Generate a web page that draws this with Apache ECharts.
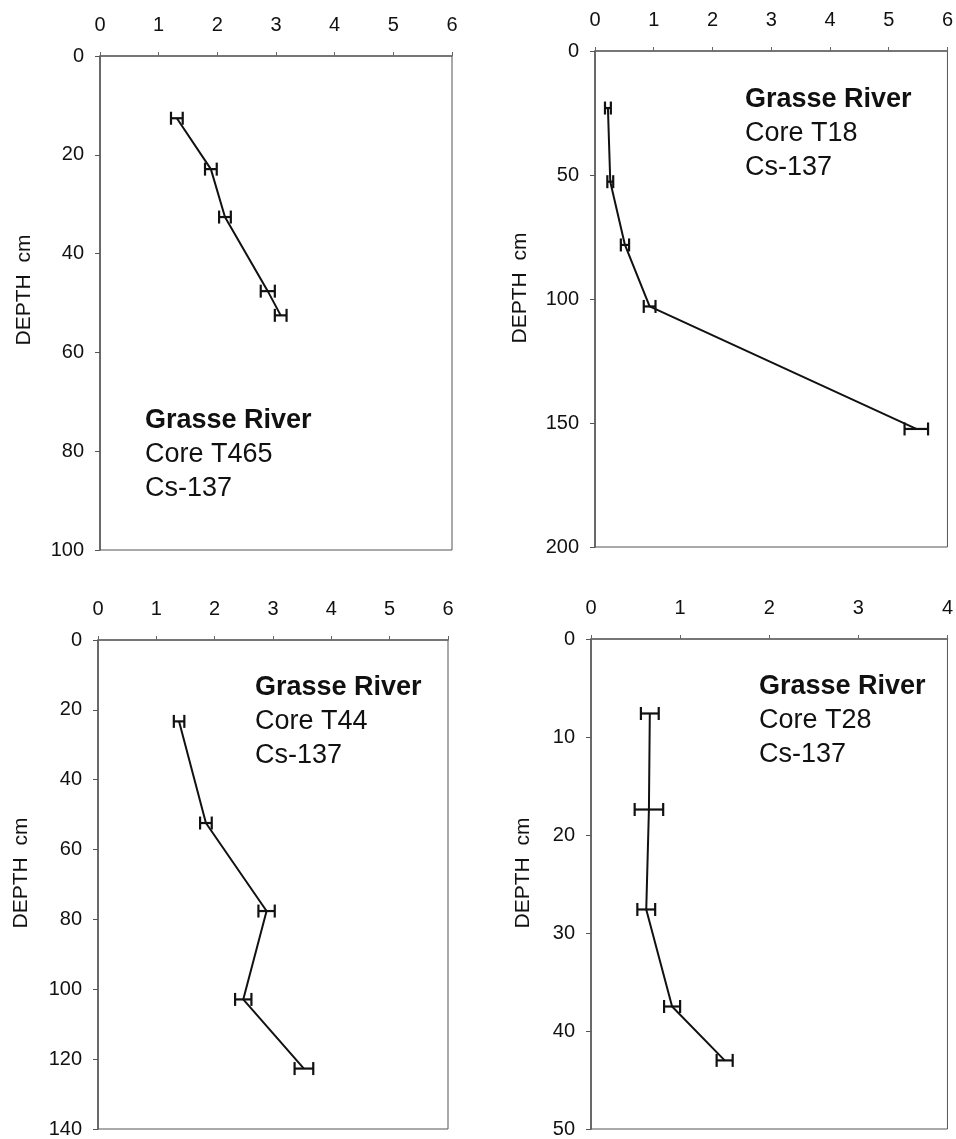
<!DOCTYPE html>
<html>
<head>
<meta charset="utf-8">
<script src="https://cdn.jsdelivr.net/npm/echarts@6/dist/echarts.min.js"></script>
<style>
  html, body { margin: 0; padding: 0; background: #fff; }
  #chart { width: 956px; height: 1139px; }
</style>
</head>
<body>
<div id="chart"></div>
<script>
// Cs-137 profiles, four Grasse River cores (depth cm, activity, half error bar)
const t465Depth = [12.6, 22.9, 32.6, 47.6, 52.5];
const t465Cs = [1.31, 1.89, 2.13, 2.86, 3.08];
const t465Err = [0.1, 0.1, 0.1, 0.12, 0.1];

const t18Depth = [23, 52.7, 78.2, 103, 152.4];
const t18Cs = [0.22, 0.26, 0.51, 0.93, 5.47];
const t18Err = [0.05, 0.05, 0.07, 0.1, 0.2];

const t44Depth = [23.3, 52.4, 77.6, 102.9, 122.7];
const t44Cs = [1.39, 1.85, 2.89, 2.49, 3.53];
const t44Err = [0.09, 0.1, 0.14, 0.14, 0.16];

const t28Depth = [7.6, 17.4, 27.6, 37.5, 43];
const t28Cs = [0.66, 0.65, 0.62, 0.91, 1.5];
const t28Err = [0.1, 0.16, 0.1, 0.09, 0.09];

const coreNames = ['Core T465', 'Core T18', 'Core T44', 'Core T28'];
const xMax = [6, 6, 6, 4];
const yMax = [100, 200, 140, 50];
const yStep = [20, 50, 20, 10];

const FONT = '"Liberation Sans", Arial, Helvetica, sans-serif';
const INK = '#111';

const cores = [
  { depth: t465Depth, cs: t465Cs, err: t465Err },
  { depth: t18Depth, cs: t18Cs, err: t18Err },
  { depth: t44Depth, cs: t44Cs, err: t44Err },
  { depth: t28Depth, cs: t28Cs, err: t28Err }
];

// panel boxes
const grids = [
  { left: 100, top: 56, width: 352, height: 494 },
  { left: 595, top: 51, width: 354, height: 496 },
  { left: 98, top: 640, width: 350, height: 491 },
  { left: 591, top: 639, width: 360, height: 490 }
];

// legend block positions (left, first line centre)
const notePos = [[145, 422], [745, 101], [255, 689], [759, 688]];
const depthLabelPos = [[24, 290], [520, 288], [21, 873], [523, 873]];

const chart = echarts.init(document.getElementById('chart'));

const errRender = (params, api) => {
  const x = api.value(0), y = api.value(1), e = api.value(2);
  const l = api.coord([x - e, y]);
  const r = api.coord([x + e, y]);
  const h = 6.5;
  const style = { stroke: INK, lineWidth: 2.2 };
  return {
    type: 'group',
    children: [
      { type: 'line', shape: { x1: l[0], y1: l[1], x2: r[0], y2: r[1] }, style },
      { type: 'line', shape: { x1: l[0], y1: l[1] - h, x2: l[0], y2: l[1] + h }, style },
      { type: 'line', shape: { x1: r[0], y1: r[1] - h, x2: r[0], y2: r[1] + h }, style }
    ]
  };
};

const series = [];
cores.forEach((c, i) => {
  series.push({
    type: 'line',
    xAxisIndex: i,
    yAxisIndex: i,
    data: c.depth.map((d, k) => [c.cs[k], d]),
    symbol: 'none',
    lineStyle: { color: INK, width: 2 },
    silent: true
  });
  series.push({
    type: 'custom',
    xAxisIndex: i,
    yAxisIndex: i,
    renderItem: errRender,
    encode: { x: 0, y: 1 },
    data: c.depth.map((d, k) => [c.cs[k], d, c.err[k]]),
    silent: true
  });
});

const graphic = [];
notePos.forEach((p, i) => {
  graphic.push({
    type: 'text', left: p[0], top: p[1] - 15,
    style: { text: 'Grasse River', font: 'bold 27px ' + FONT, fill: INK }
  });
  graphic.push({
    type: 'text', left: p[0], top: p[1] + 19,
    style: { text: coreNames[i], font: '27px ' + FONT, fill: INK }
  });
  graphic.push({
    type: 'text', left: p[0], top: p[1] + 53,
    style: { text: 'Cs-137', font: '27px ' + FONT, fill: INK }
  });
});
depthLabelPos.forEach(p => {
  graphic.push({
    type: 'text', x: p[0], y: p[1], rotation: Math.PI / 2,
    style: { text: 'DEPTH  cm', font: '21px ' + FONT, fill: INK, align: 'center', verticalAlign: 'middle' }
  });
});

const option = {
  backgroundColor: '#fff',
  animation: false,
  grid: grids.map(g => ({ ...g, show: true, borderColor: '#555', borderWidth: 1, backgroundColor: 'transparent' })),
  xAxis: grids.map((g, i) => ({
    type: 'value',
    gridIndex: i,
    position: 'top',
    min: 0,
    max: xMax[i],
    interval: 1,
    axisLine: { show: true, lineStyle: { color: '#666', width: 1.5 } },
    axisTick: { show: true, length: 4, lineStyle: { color: '#666' } },
    axisLabel: { color: INK, fontSize: 20, fontFamily: FONT, margin: 21 },
    splitLine: { show: false }
  })),
  yAxis: grids.map((g, i) => ({
    type: 'value',
    gridIndex: i,
    inverse: true,
    min: 0,
    max: yMax[i],
    interval: yStep[i],
    axisLine: { show: true, lineStyle: { color: '#555', width: 1.5 } },
    axisTick: { show: true, length: 5, lineStyle: { color: '#555' } },
    axisLabel: { color: INK, fontSize: 20, fontFamily: FONT, margin: 16 },
    splitLine: { show: false }
  })),
  series,
  graphic
};

chart.setOption(option);
</script>
</body>
</html>
